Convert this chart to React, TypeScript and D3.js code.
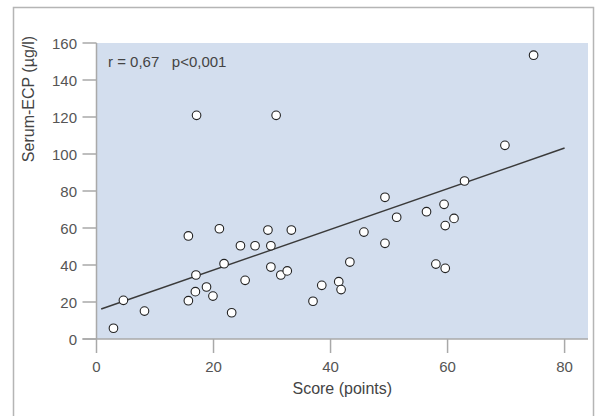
import React from "react";
import * as d3 from "d3";

// Data
const scoreValues: number[] = [
  2.9, 4.6, 8.2, 15.7, 15.7, 16.9, 17.0, 18.8, 19.9, 21.0, 21.8, 23.1, 24.6, 25.4,
  27.1, 29.3, 33.3, 29.8, 29.8, 31.5, 32.6, 37.0, 38.5, 41.4, 41.8, 43.3, 45.7,
  49.3, 49.3, 51.3, 56.4, 69.8, 62.9, 59.4, 61.1, 59.6, 58.0, 59.6, 17.1, 30.7, 74.7,
];
const ecpValues: number[] = [
  5.8, 20.9, 15.1, 55.7, 20.7, 25.6, 34.6, 28.1, 23.2, 59.6, 40.7, 14.2, 50.4, 31.7,
  50.4, 58.9, 58.9, 50.4, 38.9, 34.6, 36.8, 20.4, 29.0, 31.0, 26.7, 41.6, 57.8,
  76.6, 51.7, 65.8, 68.8, 104.7, 85.4, 72.8, 65.2, 61.3, 40.5, 38.2, 120.9, 120.9, 153.4,
];
const fitX: number[] = [0.8, 80];
const fitY: number[] = [16.2, 103.2];
const xTicks: number[] = [0, 20, 40, 60, 80];
const yTicks: number[] = [0, 20, 40, 60, 80, 100, 120, 140, 160];
const xTitle = "Score (points)";
const yTitle = "Serum-ECP (µg/l)";
const annotation = "r = 0,67   p<0,001";

const W = 597;
const H = 416;
const FONT = "'Liberation Sans', Arial, Helvetica, sans-serif";

export default function App() {
  const x = d3.scaleLinear().domain([0, 84]).range([96.5, 588]);
  const y = d3.scaleLinear().domain([0, 160]).range([339, 43]);
  const line = d3
    .line<number>()
    .x((d) => x(fitX[d]))
    .y((d) => y(fitY[d]));
  const axisColor = "#a9a9a9";
  const textColor = "#555";

  return (
    <svg
      width={W}
      height={H}
      style={{ position: "absolute", left: 0, top: 0, background: "#fff" }}
      fontFamily={FONT}
    >
      <rect x={13.5} y={7.5} width={580} height={430} fill="#fff" stroke="#b5b5b5" strokeWidth={1.5} />
      <rect x={x(0)} y={y(160)} width={x(84) - x(0)} height={y(0) - y(160)} fill="#d3deee" />

      {/* Y axis */}
      <line x1={x(0)} x2={x(0)} y1={y(160)} y2={y(0)} stroke={axisColor} strokeWidth={1.5} />
      {yTicks.map((t) => (
        <g key={"y" + t}>
          <line x1={x(0) - 14} x2={x(0)} y1={y(t)} y2={y(t)} stroke={axisColor} strokeWidth={1.5} />
          <text x={77} y={y(t)} dy="0.4em" textAnchor="end" fontSize={15} fill={textColor}>
            {t}
          </text>
        </g>
      ))}

      {/* X axis */}
      <line x1={x(0) - 14} x2={x(84)} y1={y(0)} y2={y(0)} stroke={axisColor} strokeWidth={1.5} />
      {xTicks.map((t) => (
        <g key={"x" + t}>
          <line x1={x(t)} x2={x(t)} y1={y(0)} y2={y(0) + 14} stroke={axisColor} strokeWidth={1.5} />
          <text x={x(t)} y={372} textAnchor="middle" fontSize={15} fill={textColor}>
            {t}
          </text>
        </g>
      ))}

      <text x={(x(0) + x(84)) / 2} y={394} textAnchor="middle" fontSize={16} fill="#444">
        {xTitle}
      </text>
      <text
        transform={`translate(33.5,99) rotate(-90)`}
        textAnchor="middle"
        fontSize={16}
        fill="#444"
      >
        {yTitle}
      </text>

      <text x={108} y={66.5} fontSize={15} fill="#444" style={{ whiteSpace: "pre" }}>
        {annotation}
      </text>

      <path d={line([0, 1]) || ""} fill="none" stroke="#3a3a3a" strokeWidth={1.5} />

      {scoreValues.map((s, i) => (
        <circle key={i} cx={x(s)} cy={y(ecpValues[i])} r={4.3} fill="#fff" stroke="#222" strokeWidth={1.1} />
      ))}
    </svg>
  );
}
